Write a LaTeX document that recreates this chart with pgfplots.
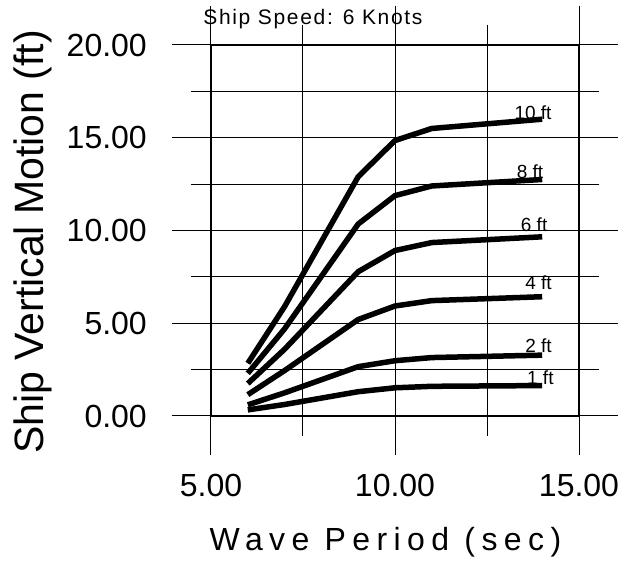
\documentclass[border=0pt]{standalone}
\usepackage{fontspec}
\setmainfont{Liberation Sans}
\newfontfamily\xlabfont[LetterSpace=20]{Liberation Sans}
\newfontfamily\titfont[LetterSpace=8]{Liberation Sans}
\usepackage{pgfplots}
\pgfplotsset{compat=1.18}
\tikzset{curve/.style={black, line width=5.5pt, line join=round, mark=none}}

\begin{document}
\begin{tikzpicture}
\begin{axis}[
  scale only axis,
  width=368pt, height=371pt,
  xmin=5, xmax=15, ymin=0, ymax=20,
  xtick={5,10,15}, minor xtick={7.5,12.5},
  ytick={0,5,10,15,20}, minor ytick={2.5,7.5,12.5,17.5},
  grid=both,
  major grid style={black, line width=1pt},
  minor grid style={black, line width=1pt},
  axis line style={black, line width=1.2pt},
  tick align=outside,
  major tick length=39pt, minor tick length=20pt,
  every tick/.style={black, line width=1pt},
  tick label style={font=\fontsize{32}{38}\selectfont,
    /pgf/number format/fixed, /pgf/number format/fixed zerofill,
    /pgf/number format/precision=2, /pgf/number format/assume math mode=true},
  yticklabel style={anchor=east, inner sep=0pt, xshift=-25pt},
  xticklabel style={anchor=base, inner sep=0pt, yshift=-41pt},
  xlabel={\xlabfont Wave Period (sec)},
  xlabel style={font=\fontsize{32}{38}\selectfont, anchor=base,
    at={(axis description cs:0.474,-0.363)}},
  ylabel={Ship Vertical Motion (ft)},
  ylabel style={font=\fontsize{41}{48}\selectfont, anchor=base,
    at={(axis description cs:-0.455,0.469)}},
  title={\titfont Ship Speed: 6 Knots},
  title style={font=\fontsize{21}{25}\selectfont, anchor=base,
    at={(axis description cs:0.277,1.039)}},
]
% 10 ft
\addplot[curve] coordinates {(6,2.84) (7,5.9) (9,12.9) (10,14.85) (11,15.5) (14,16.0)};
% 8 ft
\addplot[curve] coordinates {(6,2.3) (7,4.7) (9,10.35) (10,11.88) (11,12.4) (14,12.75)};
% 6 ft
\addplot[curve] coordinates {(6,1.75) (7,3.6) (9,7.78) (10,8.92) (11,9.35) (14,9.66)};
% 4 ft
\addplot[curve] coordinates {(6,1.15) (7,2.45) (9,5.2) (10,5.93) (11,6.22) (14,6.43)};
% 2 ft
\addplot[curve] coordinates {(6,0.6) (7,1.25) (9,2.66) (10,2.98) (11,3.15) (14,3.28)};
% 1 ft
\addplot[curve] coordinates {(6,0.33) (7,0.62) (9,1.31) (10,1.52) (11,1.6) (14,1.64)};

\begin{scope}[every node/.style={font=\fontsize{19}{22}\selectfont, anchor=base, inner sep=0pt}]
\node at (axis cs:13.75,16.0) {10 ft};
\node at (axis cs:13.67,12.8) {8 ft};
\node at (axis cs:13.78,9.94) {6 ft};
\node at (axis cs:13.9,6.83) {4 ft};
\node at (axis cs:13.9,3.41) {2 ft};
\node at (axis cs:13.95,1.72) {1 ft};
\end{scope}
\end{axis}
\pgfresetboundingbox
\path ([shift={(-211pt,-150pt)}]current axis.south west) rectangle ([shift={(44pt,45pt)}]current axis.north east);
\end{tikzpicture}
\end{document}
